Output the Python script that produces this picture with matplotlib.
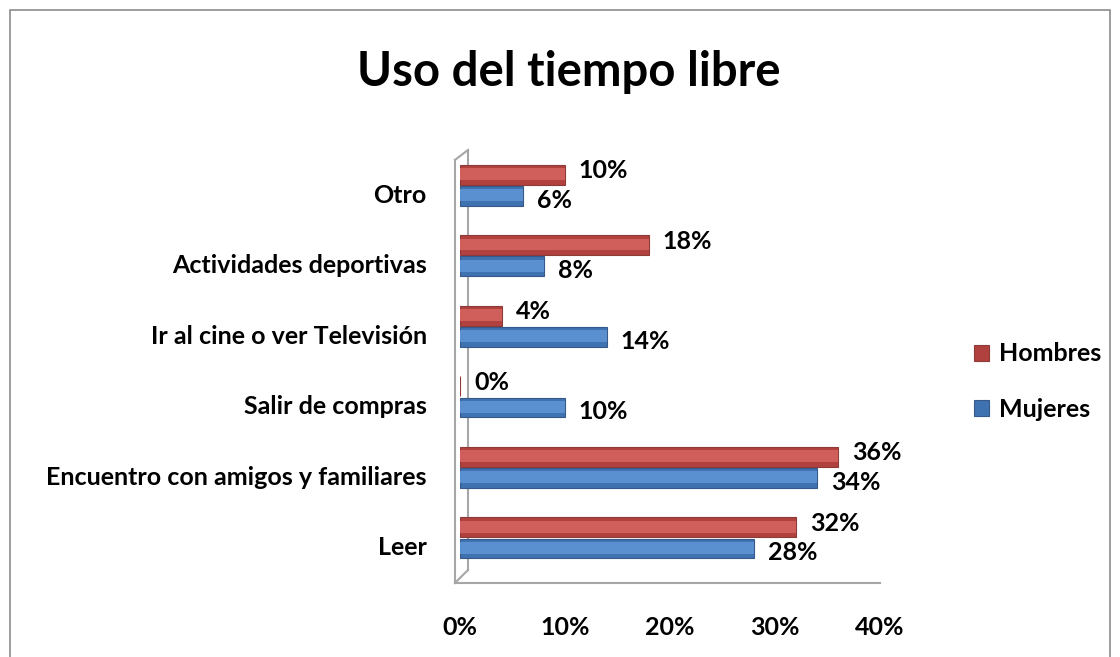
import matplotlib.pyplot as plt
import matplotlib.transforms as mtransforms
import numpy as np
from matplotlib.patches import Rectangle

categories = ['Leer', 'Encuentro con amigos y familiares', 'Salir de compras',
              'Ir al cine o ver Televisión', 'Actividades deportivas', 'Otro']
hombres = [32, 36, 0, 4, 18, 10]
mujeres = [28, 34, 10, 14, 8, 6]
x_ticks = [0, 10, 20, 30, 40]

FS = 18


def main():
    plt.rcParams['font.family'] = ['Lato', 'DejaVu Sans']
    plt.rcParams['font.weight'] = 'bold'

    fig = plt.figure(figsize=(11.2, 6.57), dpi=100)
    ax = fig.add_axes([460 / 1120, 1 - 583 / 657, 420 / 1120, 433 / 657])

    # chart border
    fig.patches.append(Rectangle((10 / 1120, -0.05), 1100 / 1120, 1 - 10 / 657 + 0.05,
                                 transform=fig.transFigure, fill=False,
                                 edgecolor='#8c8c8c', linewidth=1.2))

    y = np.arange(len(categories))
    h = 0.28
    ax.barh(y + 0.15, hombres, height=h, color='#b0413e', edgecolor='#8e3a38', linewidth=0.8,
            label='Hombres', zorder=3)
    ax.barh(y - 0.15, mujeres, height=h, color='#3f72b0', edgecolor='#36598a', linewidth=0.8,
            label='Mujeres', zorder=3)
    # softer band to fake the cylinder look
    ax.barh(y + 0.16, hombres, height=h * 0.6, color='#d05f5b', linewidth=0, zorder=4)
    ax.barh(y - 0.14, mujeres, height=h * 0.6, color='#5a8fd0', linewidth=0, zorder=4)

    for yi, v in zip(y, hombres):
        ax.annotate(f'{v}%', (v, yi + 0.15), xytext=(10, 3), textcoords='offset points',
                    ha='left', va='center', fontsize=FS, fontweight='bold')
    for yi, v in zip(y, mujeres):
        ax.annotate(f'{v}%', (v, yi - 0.15), xytext=(10, -3), textcoords='offset points',
                    ha='left', va='center', fontsize=FS, fontweight='bold')

    ax.set_xlim(0, 40)
    ax.set_ylim(-0.64, 5.5)
    ax.set_xticks(x_ticks)
    ax.set_xticklabels([f'{t}%' for t in x_ticks], fontsize=FS, fontweight='bold')
    ax.set_yticks(y)
    ax.set_yticklabels(categories, fontsize=FS, fontweight='bold')
    ax.tick_params(axis='both', length=0)
    ax.tick_params(axis='x', pad=24)
    ax.tick_params(axis='y', pad=24)
    offset = mtransforms.ScaledTranslation(0, -0.08, fig.dpi_scale_trans)
    for lab in ax.get_yticklabels():
        lab.set_transform(lab.get_transform() + offset)
    for s in ax.spines.values():
        s.set_visible(False)

    # 3d-ish wall and floor
    gray = '#a6a6a6'
    kw = dict(transform=ax.transAxes, color=gray, linewidth=1.5, clip_on=False)
    ax.plot([-0.012, -0.012], [0, 0.977], **kw)
    ax.plot([0.019, 0.019], [0.03, 1.0], **kw)
    ax.plot([-0.012, 0.019], [0.977, 1.0], **kw)
    ax.plot([-0.012, 0.019], [0, 0.03], **kw)
    ax.plot([-0.012, 1.0], [0, 0], **kw)

    fig.text(569 / 1120, 1 - 72 / 657, 'Uso del tiempo libre', ha='center', va='center',
             fontsize=34, fontweight='bold')

    ax.legend(loc='center left', bbox_to_anchor=(1.224, 0.465), frameon=False,
              handlelength=0.6, handleheight=0.6, labelspacing=1.3, handletextpad=0.4,
              borderaxespad=0, borderpad=0, prop={'weight': 'bold', 'size': FS})
    fig.savefig('out.png', dpi=100)


if __name__ == '__main__':
    main()
